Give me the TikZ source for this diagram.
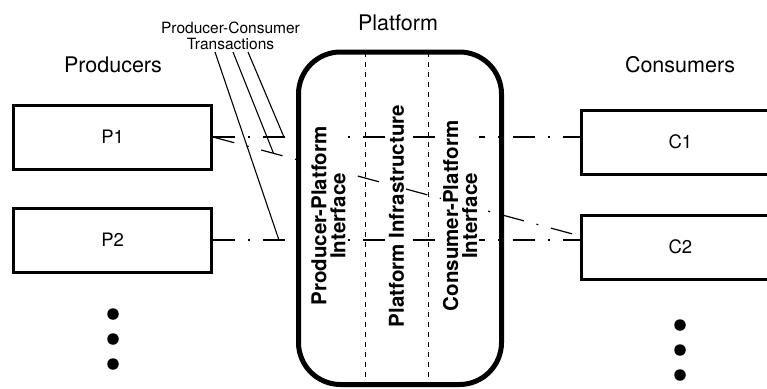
\documentclass[tikz,border=0pt]{standalone}
\usepackage{fontspec}
\setmainfont{TeX Gyre Heros}
\usetikzlibrary{calc}

\begin{document}
\begin{tikzpicture}[x=1pt,y=-1pt,
  party/.style={draw, line width=3pt, minimum width=197.5pt, minimum height=64pt,
    inner sep=0pt, font=\fontsize{18.5}{21}\selectfont},
  grouplabel/.style={font=\fontsize{21.5}{24}\selectfont, anchor=base},
  flow/.style={line width=1.2pt, dash pattern=on 22pt off 13pt on 2pt off 13pt},
  callout/.style={line width=1.1pt},
  platformbox/.style={draw, line width=5pt, rounded corners=42pt,
    minimum width=203pt, minimum height=332.5pt, inner sep=0pt},
  layerlabel/.style={rotate=90, fill=white, align=center, inner sep=2pt,
    font=\bfseries\fontsize{20.5}{19}\selectfont},
  divider/.style={line width=1pt, dash pattern=on 5pt off 5pt},
  ellipsisdot/.style={circle, fill, inner sep=0pt, minimum size=11.5pt}
]
\useasboundingbox (0,0) rectangle (767,388);
\clip (0,0) rectangle (767,388);

% producers and consumers
\node[party] (P1) at (112.7,137) {P1};
\node[party] (P2) at (112.7,240) {P2};
\node[party] (C1) at (680.4,142) {C1};
\node[party] (C2) at (680.4,247) {C2};

% group headings
\node[grouplabel] (prodhead) at (113,72) {Producers};
\node[grouplabel] (conshead) at (680,72) {Consumers};
\node[grouplabel] (plathead) at (398,30) {Platform};

% transactions between producers and consumers
\coordinate (c2in) at ($(C2.west)+(0,-11)$);
\draw[flow] (P1.east) -- (P1.east -| C1.west);
\draw[flow] (P1.east) -- (c2in);
\draw[flow] (P2.east) -- (P2.east -| C2.west);

% the platform and its three layers
\node[platformbox] (plat) at (400,218.25) {};
\draw[divider] (365,52) -- (365,384.5);
\draw[divider] (428,52) -- (428,384.5);

\node[layerlabel] (prodif) at (328.5,216) {Producer-Platform\\Interface};
\node[layerlabel] (infra) at (396.5,216) {Platform Infrastructure};
\node[layerlabel] (consif) at (460,216) {Consumer-Platform\\Interface};

% callout naming the transactions
\node[align=center, inner sep=0pt, font=\fontsize{15.5}{16}\selectfont]
  (trans) at (230.5,36) {Producer-Consumer\\Transactions};
\coordinate (s1) at (215,52);
\coordinate (s2) at (233,52);
\coordinate (s3) at (248,52);
\coordinate (t1) at ($(P2.east)+(66,0)$);
\coordinate (t2) at ($(P1.east)!0.165!(c2in)$);
\coordinate (t3) at ($(P1.east)+(71,0)$);
\draw[callout] (s1) -- (t1);
\draw[callout] (s2) -- (t2);
\draw[callout] (s3) -- (t3);

% more producers and consumers
\node[ellipsisdot] (pd1) at (113,314) {};
\node[ellipsisdot] (pd2) at (113,339) {};
\node[ellipsisdot] (pd3) at (113,364) {};
\node[ellipsisdot] (cd1) at (680,325) {};
\node[ellipsisdot] (cd2) at (680,350) {};
\node[ellipsisdot] (cd3) at (680,375) {};
\end{tikzpicture}
\end{document}
